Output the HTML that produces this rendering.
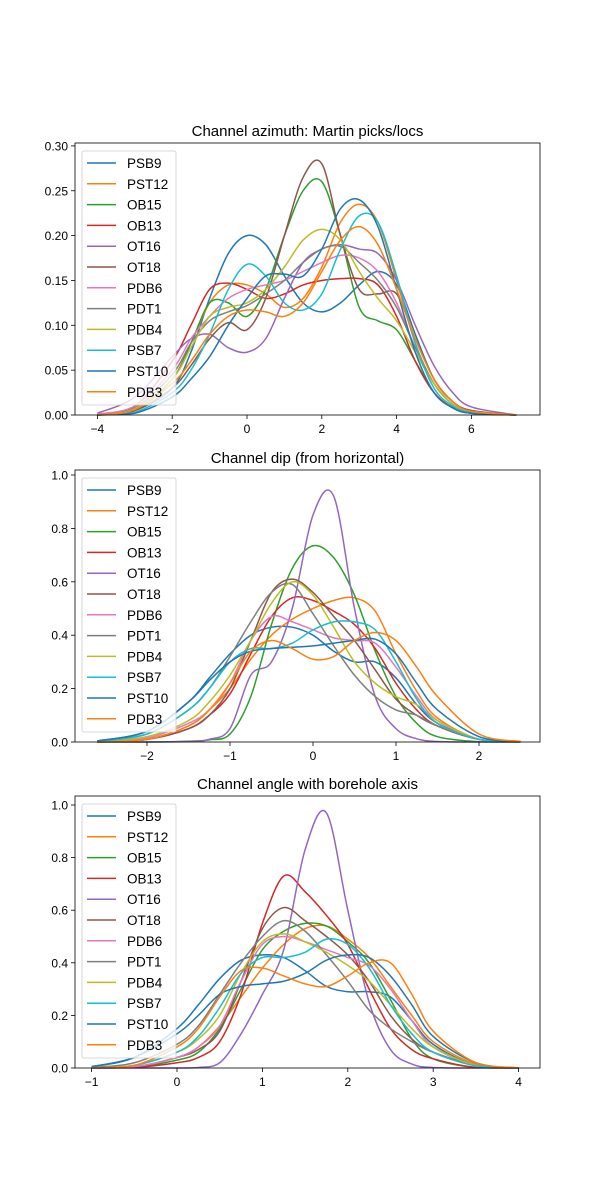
<!DOCTYPE html>
<html><head><meta charset="utf-8"><style>
html,body{margin:0;padding:0;background:#fff;}
svg{display:block;font-family:"Liberation Sans","DejaVu Sans",sans-serif;}
</style></head><body>
<svg id="fig" width="600" height="1200" viewBox="0 0 600 1200"></svg>
<script>
const seriesNames = ["PSB9","PST12","OB15","OB13","OT16","OT18","PDB6","PDT1","PDB4","PSB7","PST10","PDB3"];
const seriesColors = ["#1f77b4","#ff7f0e","#2ca02c","#d62728","#9467bd","#8c564b","#e377c2","#7f7f7f","#bcbd22","#17becf","#1f77b4","#ff7f0e"];

// Panel 1: azimuth
const az_x = [-4,-3,-2,-1.5,-1,-0.5,0,0.5,1,1.5,2,2.5,3,3.5,4,4.5,5,5.5,6,7.2];
const az_PSB9 = [0.001,0.005,0.03,0.07,0.13,0.18,0.20,0.19,0.155,0.125,0.115,0.125,0.145,0.16,0.145,0.09,0.04,0.015,0.005,0];
const az_PST12 = [0,0.005,0.04,0.08,0.125,0.145,0.145,0.135,0.12,0.13,0.165,0.215,0.235,0.215,0.15,0.08,0.035,0.012,0.004,0];
const az_OB15 = [0,0.005,0.04,0.08,0.125,0.125,0.11,0.14,0.2,0.25,0.26,0.2,0.12,0.105,0.095,0.06,0.025,0.008,0.002,0];
const az_OB13 = [0.001,0.01,0.06,0.1,0.14,0.147,0.14,0.13,0.135,0.145,0.15,0.152,0.152,0.145,0.11,0.06,0.025,0.008,0.002,0];
const az_OT16 = [0.002,0.02,0.065,0.085,0.09,0.075,0.07,0.085,0.13,0.17,0.185,0.19,0.185,0.18,0.15,0.1,0.055,0.025,0.009,0];
const az_OT18 = [0,0.005,0.03,0.055,0.085,0.103,0.095,0.13,0.2,0.265,0.28,0.2,0.14,0.135,0.135,0.085,0.04,0.015,0.005,0];
const az_PDB6 = [0.001,0.01,0.05,0.085,0.11,0.13,0.14,0.145,0.15,0.16,0.17,0.178,0.175,0.16,0.125,0.075,0.035,0.012,0.004,0];
const az_PDT1 = [0,0.008,0.045,0.08,0.105,0.115,0.122,0.135,0.15,0.17,0.185,0.188,0.17,0.15,0.12,0.075,0.035,0.012,0.004,0];
const az_PDB4 = [0,0.007,0.04,0.075,0.11,0.12,0.125,0.14,0.165,0.195,0.207,0.195,0.16,0.13,0.105,0.07,0.035,0.012,0.004,0];
const az_PSB7 = [0,0.003,0.025,0.05,0.09,0.14,0.168,0.155,0.125,0.117,0.135,0.185,0.222,0.215,0.155,0.08,0.03,0.01,0.003,0];
const az_PST10 = [0,0.002,0.02,0.04,0.065,0.1,0.13,0.155,0.157,0.155,0.185,0.23,0.24,0.21,0.14,0.07,0.025,0.008,0.002,0];
const az_PDB3 = [0,0.006,0.035,0.06,0.09,0.11,0.117,0.115,0.11,0.125,0.16,0.195,0.21,0.19,0.14,0.085,0.04,0.015,0.004,0];

// Panel 2: dip
const dip_x = [-2.6,-2,-1.5,-1.25,-1,-0.75,-0.5,-0.25,0,0.25,0.5,0.75,1,1.25,1.5,2,2.5];
const dip_PSB9 = [0.004,0.04,0.15,0.24,0.33,0.4,0.43,0.43,0.4,0.34,0.3,0.3,0.24,0.14,0.07,0.01,0];
const dip_PST12 = [0,0.01,0.06,0.12,0.2,0.31,0.4,0.46,0.5,0.53,0.54,0.49,0.33,0.19,0.09,0.01,0];
const dip_OB15 = [0,0,0.003,0.008,0.03,0.17,0.44,0.65,0.735,0.69,0.55,0.34,0.17,0.07,0.02,0.001,0];
const dip_OB13 = [0,0.01,0.05,0.1,0.18,0.33,0.47,0.54,0.53,0.49,0.44,0.35,0.22,0.12,0.06,0.01,0];
const dip_OT16 = [0,0,0.002,0.01,0.05,0.25,0.3,0.5,0.85,0.92,0.5,0.17,0.05,0.012,0.002,0,0];
const dip_OT18 = [0,0.01,0.05,0.1,0.2,0.38,0.56,0.61,0.56,0.47,0.38,0.27,0.16,0.1,0.06,0.01,0];
const dip_PDB6 = [0.001,0.015,0.07,0.12,0.22,0.38,0.47,0.45,0.42,0.39,0.38,0.37,0.28,0.17,0.08,0.01,0];
const dip_PDT1 = [0.003,0.03,0.12,0.2,0.32,0.45,0.56,0.59,0.48,0.36,0.25,0.17,0.12,0.1,0.06,0.01,0];
const dip_PDB4 = [0.002,0.02,0.08,0.15,0.25,0.38,0.52,0.6,0.55,0.43,0.3,0.22,0.17,0.14,0.08,0.01,0];
const dip_PSB7 = [0.002,0.03,0.12,0.2,0.3,0.35,0.35,0.37,0.42,0.45,0.45,0.42,0.3,0.16,0.07,0.01,0];
const dip_PST10 = [0.004,0.04,0.15,0.23,0.3,0.34,0.35,0.355,0.36,0.37,0.38,0.385,0.33,0.22,0.12,0.02,0.002];
const dip_PDB3 = [0,0.01,0.06,0.12,0.22,0.34,0.38,0.35,0.31,0.32,0.38,0.41,0.38,0.28,0.17,0.03,0.002];

// Panel 3: angle with borehole axis
const ang_x = [-1,-0.5,0,0.25,0.5,0.75,1,1.25,1.5,1.75,2,2.25,2.5,2.75,3,3.5,4];
const ang_PSB9 = [0.005,0.04,0.15,0.24,0.34,0.41,0.43,0.42,0.37,0.31,0.29,0.29,0.27,0.18,0.09,0.01,0];
const ang_PST12 = [0,0.005,0.04,0.08,0.16,0.27,0.38,0.47,0.53,0.54,0.49,0.42,0.31,0.2,0.1,0.015,0];
const ang_OB15 = [0,0.003,0.03,0.06,0.15,0.3,0.45,0.52,0.55,0.54,0.48,0.4,0.26,0.11,0.035,0.002,0];
const ang_OB13 = [0,0.002,0.02,0.04,0.1,0.28,0.55,0.73,0.67,0.58,0.47,0.3,0.15,0.07,0.035,0.002,0];
const ang_OT16 = [0,0,0,0.002,0.02,0.13,0.28,0.45,0.83,0.97,0.6,0.25,0.07,0.015,0.002,0,0];
const ang_OT18 = [0,0.003,0.04,0.07,0.14,0.33,0.53,0.61,0.56,0.5,0.43,0.33,0.2,0.11,0.06,0.01,0];
const ang_PDB6 = [0,0.005,0.04,0.08,0.16,0.33,0.47,0.5,0.48,0.45,0.42,0.39,0.3,0.18,0.08,0.01,0];
const ang_PDT1 = [0.002,0.02,0.09,0.16,0.28,0.4,0.5,0.56,0.52,0.43,0.33,0.22,0.15,0.1,0.06,0.01,0];
const ang_PDB4 = [0.001,0.01,0.06,0.11,0.2,0.36,0.48,0.51,0.48,0.44,0.39,0.33,0.24,0.15,0.08,0.01,0];
const ang_PSB7 = [0.001,0.01,0.06,0.12,0.23,0.36,0.42,0.42,0.44,0.49,0.47,0.38,0.24,0.13,0.06,0.008,0];
const ang_PST10 = [0.005,0.04,0.13,0.2,0.28,0.31,0.32,0.33,0.36,0.41,0.43,0.42,0.35,0.24,0.12,0.02,0];
const ang_PDB3 = [0,0.01,0.08,0.15,0.27,0.37,0.38,0.35,0.32,0.31,0.35,0.4,0.4,0.28,0.14,0.02,0.001];

const az_xticks = [-4,-2,0,2,4,6];
const az_yticks = ["0.00","0.05","0.10","0.15","0.20","0.25","0.30"];
const dip_xticks = [-2,-1,0,1,2];
const dip_yticks = ["0.0","0.2","0.4","0.6","0.8","1.0"];
const ang_xticks = [-1,0,1,2,3,4];
const ang_yticks = ["0.0","0.2","0.4","0.6","0.8","1.0"];

const NS = "http://www.w3.org/2000/svg";
const svg = document.getElementById("fig");
function mk(tag, attrs, parent){const e=document.createElementNS(NS,tag);for(const k in attrs)e.setAttribute(k,attrs[k]);(parent||svg).appendChild(e);return e;}

function drawPanel(cfg){
  const g = mk("g",{});
  
  
  const L=75,R=540,T=cfg.top,B=cfg.top+272;
  const sx = v => cfg.x0 + cfg.kx*v;
  const sy = v => B - cfg.ky*v;
  const title = mk("text",{x:307.5,y:T-7,"text-anchor":"middle","font-size":"15"},g);
  title.textContent = cfg.title;
  
  
  const lines = mk("g",{},g);
  
  
  cfg.series.forEach((ys,i)=>{
    const pts = cfg.xs.map((xv,j)=>[sx(xv),sy(ys[j])]);
    let d = "M"+pts[0][0].toFixed(2)+","+pts[0][1].toFixed(2);
    for(let j=0;j<pts.length-1;j++){
      const p0=pts[Math.max(j-1,0)],p1=pts[j],p2=pts[j+1],p3=pts[Math.min(j+2,pts.length-1)];
      const c1x=p1[0]+(p2[0]-p0[0])/6, c1y=Math.min(B,p1[1]+(p2[1]-p0[1])/6);
      const c2x=p2[0]-(p3[0]-p1[0])/6, c2y=Math.min(B,p2[1]-(p3[1]-p1[1])/6);
      d+=" C"+c1x.toFixed(2)+","+c1y.toFixed(2)+" "+c2x.toFixed(2)+","+c2y.toFixed(2)+" "+p2[0].toFixed(2)+","+p2[1].toFixed(2);
    }
    const p = mk("path",{d:d,fill:"none",stroke:seriesColors[i],"stroke-width":"1.5"},lines);
    
    
  });
  const fr = mk("rect",{x:L,y:T,width:R-L,height:B-T,fill:"none",stroke:"#000","stroke-width":"0.8"},g);
  
  
  cfg.xticks.forEach(t=>{
    const x=sx(t);
    mk("line",{x1:x,x2:x,y1:B,y2:B+4,stroke:"#000","stroke-width":"0.8"},g);
    const tx = mk("text",{x:x,y:B+18,"text-anchor":"middle","font-size":"12"},g);
    tx.textContent = (t<0?"\u2212"+(-t):String(t));
    
    
  });
  cfg.yticks.forEach(t=>{
    const y=sy(parseFloat(t));
    mk("line",{x1:L-4,x2:L,y1:y,y2:y,stroke:"#000","stroke-width":"0.8"},g);
    const ty = mk("text",{x:L-7,y:y+4.5,"text-anchor":"end","font-size":"12"},g);
    ty.textContent = t;
    
    
  });
  const lg = mk("g",{},g);
  
  
  mk("rect",{x:82,y:T+8,width:94,height:254,rx:2,fill:"#fff","fill-opacity":"0.8",stroke:"#ccc","stroke-width":"0.8"},lg);
  seriesNames.forEach((n,i)=>{
    const y = T+20+i*20.8;
    const ent = mk("g",{},lg);
    
    
    mk("line",{x1:87,x2:116,y1:y,y2:y,stroke:seriesColors[i],"stroke-width":"1.5"},ent);
    const t = mk("text",{x:127,y:y+5,"font-size":"13.5"},ent);
    t.textContent = n;
  });
}

drawPanel({name:"azimuth-panel",title:"Channel azimuth: Martin picks/locs",top:143,x0:247,kx:37.4,ky:897,xs:az_x,
  series:[az_PSB9,az_PST12,az_OB15,az_OB13,az_OT16,az_OT18,az_PDB6,az_PDT1,az_PDB4,az_PSB7,az_PST10,az_PDB3],xticks:az_xticks,yticks:az_yticks});
drawPanel({name:"dip-panel",title:"Channel dip (from horizontal)",top:470,x0:313,kx:83,ky:267,xs:dip_x,
  series:[dip_PSB9,dip_PST12,dip_OB15,dip_OB13,dip_OT16,dip_OT18,dip_PDB6,dip_PDT1,dip_PDB4,dip_PSB7,dip_PST10,dip_PDB3],xticks:dip_xticks,yticks:dip_yticks});
drawPanel({name:"borehole-angle-panel",title:"Channel angle with borehole axis",top:796,x0:177,kx:85.4,ky:263,xs:ang_x,
  series:[ang_PSB9,ang_PST12,ang_OB15,ang_OB13,ang_OT16,ang_OT18,ang_PDB6,ang_PDT1,ang_PDB4,ang_PSB7,ang_PST10,ang_PDB3],xticks:ang_xticks,yticks:ang_yticks});
</script>
</body></html>
